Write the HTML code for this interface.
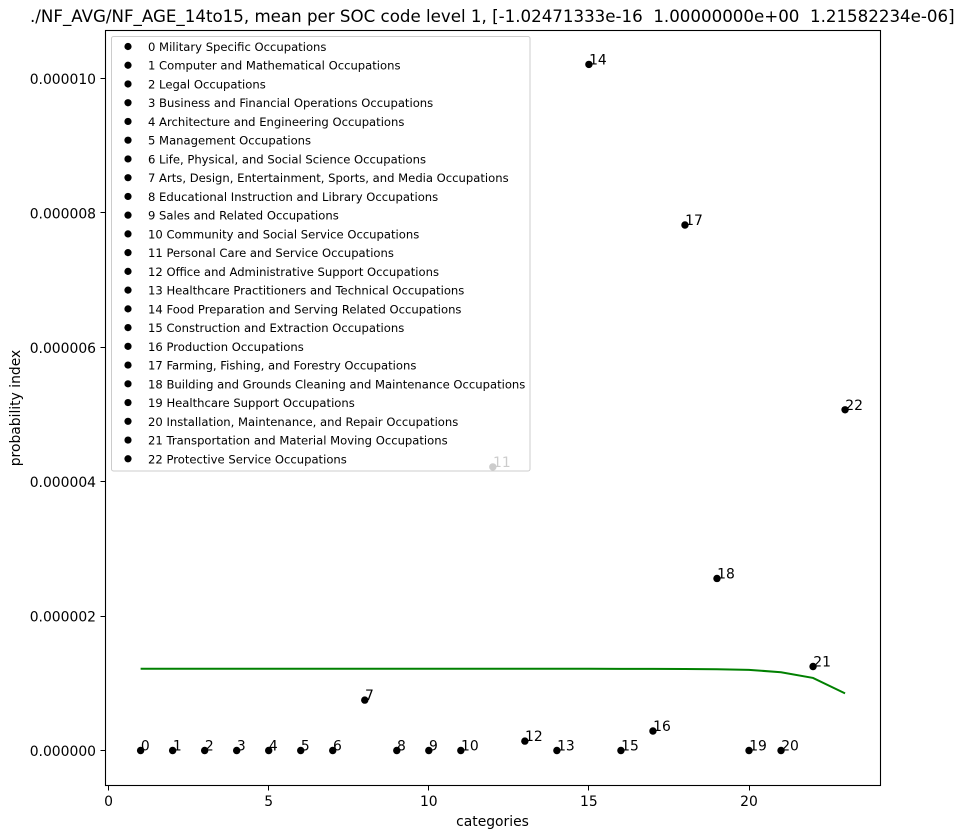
<!DOCTYPE html>
<html lang="en">
<head>
<meta charset="utf-8">
<title>Mean probability index per SOC code level 1</title>
<style>
html,body{margin:0;padding:0;background:#fff;}
svg{display:block;font-family:"DejaVu Sans","Liberation Sans",sans-serif;}
text{fill:#000;}
</style>
</head>
<body>
<svg id="chart" width="965" height="838" viewBox="0 0 965 838" xmlns="http://www.w3.org/2000/svg">
<rect x="0" y="0" width="965" height="838" fill="#fff"/>
<text x="30" y="22" font-size="16.67" style="white-space:pre">./NF_AVG/NF_AGE_14to15, mean per SOC code level 1, [-1.02471333e-16  1.00000000e+00  1.21582234e-06]</text>
<g id="plot"></g>
<text x="492.5" y="826" font-size="13.9" text-anchor="middle">categories</text>
<text transform="translate(20,408) rotate(-90)" font-size="13.9" text-anchor="middle">probability index</text>
</svg>
<script>
const categories = [1,2,3,4,5,6,7,8,9,10,11,12,13,14,15,16,17,18,19,20,21,22,23];
const pointValues = [0,0,0,0,0,0,0,0.75,0,0,0,4.22,0.14,0,10.21,0,0.29,7.82,2.56,0,0,1.25,5.07];
const lineValues = [1.216,1.216,1.216,1.216,1.216,1.216,1.216,1.216,1.216,1.216,1.216,1.216,1.216,1.216,1.216,1.215,1.214,1.212,1.21,1.2,1.165,1.08,0.85];
const occupationNames = [
"Military Specific Occupations","Computer and Mathematical Occupations","Legal Occupations",
"Business and Financial Operations Occupations","Architecture and Engineering Occupations",
"Management Occupations","Life, Physical, and Social Science Occupations",
"Arts, Design, Entertainment, Sports, and Media Occupations","Educational Instruction and Library Occupations",
"Sales and Related Occupations","Community and Social Service Occupations","Personal Care and Service Occupations",
"Office and Administrative Support Occupations","Healthcare Practitioners and Technical Occupations",
"Food Preparation and Serving Related Occupations","Construction and Extraction Occupations",
"Production Occupations","Farming, Fishing, and Forestry Occupations",
"Building and Grounds Cleaning and Maintenance Occupations","Healthcare Support Occupations",
"Installation, Maintenance, and Repair Occupations","Transportation and Material Moving Occupations",
"Protective Service Occupations"];
const xTicks = [0,5,10,15,20];
const yTicks = [0,2,4,6,8,10];
const yTickLabels = ["0.000000","0.000002","0.000004","0.000006","0.000008","0.000010"];

const NS = "http://www.w3.org/2000/svg";
const plot = document.getElementById("plot");
const box = {left:105.5, right:880.5, top:30.5, bottom:785.5};
function xScale(v){ return 108.6 + v * 32.02; }
function yScale(v){ return 750.5 - v * 67.2; }
function make(tag, attrs, parent, content){
  const el = document.createElementNS(NS, tag);
  for (const k in attrs) el.setAttribute(k, attrs[k]);
  if (content !== undefined) el.textContent = content;
  (parent || plot).appendChild(el);
  return el;
}

// green mean line
const linePath = categories.map((c,i)=>xScale(c).toFixed(2)+","+yScale(lineValues[i]).toFixed(2)).join(" ");
const meanLine = make("polyline",{points:linePath,fill:"none",stroke:"#008000","stroke-width":2});



// points and labels
categories.forEach((c,i)=>{
  const dot = make("circle",{cx:xScale(c),cy:yScale(pointValues[i]),r:3.7,fill:"#000"});
  
  
  const lab = make("text",{x:xScale(c)+0.2,y:yScale(pointValues[i]),"font-size":13.9},plot,String(i));
  
  
});

// legend
const legendBox = make("rect",{x:111.5,y:36.5,width:418.5,height:434.5,rx:2,ry:2,fill:"#fff","fill-opacity":0.8,stroke:"#ccc","stroke-width":1});


occupationNames.forEach((name,i)=>{
  const rowY = 47 + i * 18.74;
  const mark = make("circle",{cx:128,cy:rowY-0.5,r:3.6,fill:"#000"});
  
  
  const txt = make("text",{x:148,y:rowY+4,"font-size":11.6},plot,i+" "+name);
  
  
});

// axes frame
const frame = make("rect",{x:box.left,y:box.top,width:box.right-box.left,height:box.bottom-box.top,fill:"none",stroke:"#000","stroke-width":1.1});



// ticks
xTicks.forEach(t=>{
  const x = Math.round(xScale(t)-0.5)+0.5;
  const tick = make("line",{x1:x,x2:x,y1:box.bottom,y2:box.bottom+5,stroke:"#000","stroke-width":1});
  
  
  const lab = make("text",{x:xScale(t),y:806,"font-size":13.9,"text-anchor":"middle"},plot,String(t));
  
  
});
yTicks.forEach((t,i)=>{
  const y = Math.round(yScale(t)-0.5)+0.5;
  const tick = make("line",{x1:box.left-5,x2:box.left,y1:y,y2:y,stroke:"#000","stroke-width":1});
  
  
  const lab = make("text",{x:96,y:yScale(t)+5.5,"font-size":13.9,"text-anchor":"end"},plot,yTickLabels[i]);
  
  
});
</script>
</body>
</html>
